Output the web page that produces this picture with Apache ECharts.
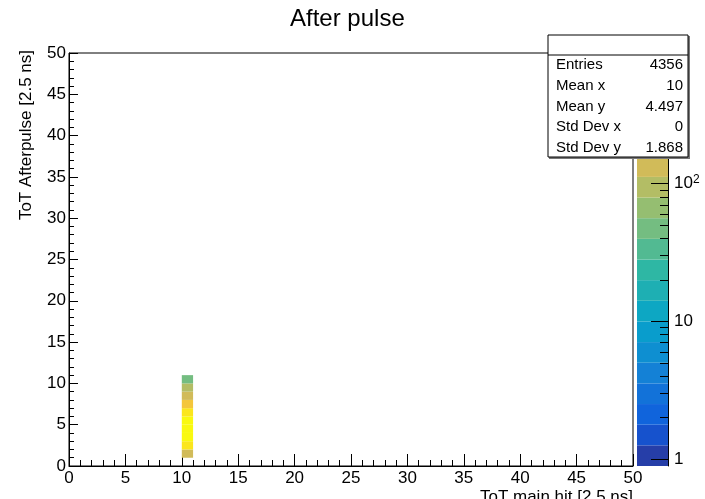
<!DOCTYPE html>
<html>
<head>
<meta charset="utf-8">
<script src="https://cdn.jsdelivr.net/npm/echarts@6/dist/echarts.min.js"></script>
<style>
  html, body { margin: 0; padding: 0; background: #fff; }
  #chart { width: 705px; height: 499px; }
</style>
</head>
<body>
<div id="chart"></div>
<script>
// After-pulse ToT versus main-hit ToT (2D histogram, log colour scale)
const xFill = 10;                                   // main-hit ToT of every entry
const yBins = [1, 2, 3, 4, 5, 6, 7, 8, 9, 10];      // afterpulse ToT bins (low edges)
const counts = [123, 502, 780, 890, 861, 620, 290, 150, 92, 48];
const xTickLabels = [0, 5, 10, 15, 20, 25, 30, 35, 40, 45, 50];
const yTickLabels = [0, 5, 10, 15, 20, 25, 30, 35, 40, 45, 50];
const zTickLabels = [1, 10, 100];

const FONT = '"Liberation Sans", Arial, Helvetica, sans-serif';
const binW = 1;

// statistics box contents
const nEntries = counts.reduce((a, b) => a + b, 0);
const sumY = yBins.reduce((s, y, i) => s + y * counts[i], 0);
const sumY2 = yBins.reduce((s, y, i) => s + y * y * counts[i], 0);
const meanY = sumY / nEntries;
const stdY = Math.sqrt(sumY2 / nEntries - meanY * meanY);
const fmt = v => String(parseFloat(v.toPrecision(4)));
const statRows = [
  ['Entries', String(nEntries)],
  ['Mean x', fmt(xFill)],
  ['Mean y', fmt(meanY)],
  ['Std Dev x', fmt(0)],
  ['Std Dev y', fmt(stdY)]
];

// log colour scale: 20 contours between 0.001*max and max
const zMax = Math.max(...counts);
const zMin = 0.001 * zMax;
const lzMin = Math.log10(zMin), lzMax = Math.log10(zMax);
const nContours = 20;
const dz = (lzMax - lzMin) / nContours;

// kBird gradient, 255 colours
const stops = [0.0, 0.125, 0.25, 0.375, 0.5, 0.625, 0.75, 0.875, 1.0];
const red   = [0.2082, 0.0592, 0.0780, 0.0232, 0.1802, 0.5301, 0.8186, 0.9956, 0.9764];
const green = [0.1664, 0.3599, 0.5041, 0.6419, 0.7178, 0.7492, 0.7328, 0.7862, 0.9832];
const blue  = [0.5293, 0.8684, 0.8385, 0.7914, 0.6425, 0.4662, 0.3499, 0.1968, 0.0539];
const gradient = [];
for (let g = 1; g < stops.length; g++) {
  const n = Math.floor(255 * stops[g]) - Math.floor(255 * stops[g - 1]);
  for (let c = 0; c < n; c++) {
    const f = c / n;
    const ch = arr => Math.round(255 * (arr[g - 1] + f * (arr[g] - arr[g - 1])));
    gradient.push('rgb(' + ch(red) + ',' + ch(green) + ',' + ch(blue) + ')');
  }
}
const bandColor = k => gradient[Math.min(254, Math.floor((k + 0.99) * 255 / nContours))];
const bandOf = z => Math.max(0, Math.min(nContours - 1, Math.floor(0.01 + (Math.log10(z) - lzMin) / dz)));

const cellData = yBins.map((y, i) => [xFill, y, counts[i]]);
const paletteData = [];
for (let k = 0; k < nContours; k++) paletteData.push([k, lzMin + k * dz, lzMin + (k + 1) * dz]);

const majorZ = zTickLabels.map(v => Math.log10(v));
const minorZ = [];
for (let d = 0; d < 3; d++) {
  for (let m = 2; m <= 9; m++) {
    const l = Math.log10(m * Math.pow(10, d));
    if (l < lzMax) minorZ.push(l);
  }
}

const labelStyle = { color: '#000', fontFamily: FONT, fontSize: 17 };
const tickStyle = { color: '#000', width: 1 };

const chart = echarts.init(document.getElementById('chart'), null, { renderer: 'canvas' });
chart.setOption({
  animation: false,
  backgroundColor: '#fff',
  title: {
    text: 'After pulse',
    left: 290, top: 7, padding: 0,
    textStyle: { fontFamily: FONT, fontSize: 24, fontWeight: 'normal', color: '#000' }
  },
  grid: [
    { left: 69, right: 72, top: 53, bottom: 33, outerBoundsMode: 'none', containLabel: false,
      show: true, borderColor: '#000', borderWidth: 1 },
    { left: 637, right: 37, top: 53, bottom: 33, outerBoundsMode: 'none', containLabel: false }
  ],
  xAxis: [
    {
      gridIndex: 0, type: 'value',
      min: xTickLabels[0], max: xTickLabels[xTickLabels.length - 1], interval: 5,
      name: 'ToT main hit [2.5 ns]', nameLocation: 'end', nameGap: 0,
      nameTextStyle: { fontFamily: FONT, fontSize: 17, color: '#000', align: 'right', verticalAlign: 'top', padding: [23, 0, 0, 0] },
      axisLine: { show: true, onZero: false, lineStyle: tickStyle },
      axisTick: { show: true, inside: true, length: 12, lineStyle: tickStyle },
      minorTick: { show: true, splitNumber: 5, length: 6, lineStyle: tickStyle },
      axisLabel: Object.assign({ margin: 4, showMinLabel: true, showMaxLabel: true }, labelStyle),
      splitLine: { show: false }
    },
    { gridIndex: 1, type: 'value', min: 0, max: 1, show: false }
  ],
  yAxis: [
    {
      gridIndex: 0, type: 'value',
      min: yTickLabels[0], max: yTickLabels[yTickLabels.length - 1], interval: 5,
      name: 'ToT Afterpulse [2.5 ns]', nameLocation: 'end', nameGap: 3, nameRotate: 90,
      nameTextStyle: { fontFamily: FONT, fontSize: 17, color: '#000', align: 'right', verticalAlign: 'bottom', padding: [0, 0, 34, 0] },
      axisLine: { show: true, onZero: false, lineStyle: tickStyle },
      axisTick: { show: true, inside: true, length: 9, lineStyle: tickStyle },
      minorTick: { show: true, splitNumber: 5, length: 5, lineStyle: tickStyle },
      axisLabel: Object.assign({ margin: 3, showMinLabel: true, showMaxLabel: true }, labelStyle),
      splitLine: { show: false }
    },
    {
      gridIndex: 1, type: 'value', position: 'right', min: lzMin, max: lzMax, z: 10,
      axisLine: { show: true, onZero: false, lineStyle: tickStyle },
      axisTick: { show: true, inside: true, length: 17, customValues: majorZ, lineStyle: tickStyle },
      axisLabel: Object.assign({
        margin: 6, customValues: majorZ,
        formatter: v => {
          const e = Math.round(v);
          return e < 2 ? String(Math.pow(10, e)) : '10{sup|' + e + '}';
        },
        rich: { sup: { fontFamily: FONT, fontSize: 12, color: '#000', verticalAlign: 'top', padding: [0, 0, 8, 0] } }
      }, labelStyle),
      splitLine: { show: false }
    },
    {
      gridIndex: 1, type: 'value', position: 'right', min: lzMin, max: lzMax, z: 10,
      axisLine: { show: false, onZero: false },
      axisTick: { show: true, inside: true, length: 8, customValues: minorZ, lineStyle: tickStyle },
      axisLabel: { show: false },
      splitLine: { show: false }
    }
  ],
  series: [
    {
      type: 'custom', xAxisIndex: 0, yAxisIndex: 0,
      data: cellData,
      encode: { x: 0, y: 1 },
      renderItem: (params, api) => {
        const x0 = api.value(0), y0 = api.value(1), z = api.value(2);
        const p0 = api.coord([x0, y0]);
        const p1 = api.coord([x0 + binW, y0 + binW]);
        return {
          type: 'rect',
          shape: { x: p0[0], y: p1[1], width: p1[0] - p0[0], height: p0[1] - p1[1] },
          style: { fill: bandColor(bandOf(z)) }
        };
      }
    },
    {
      type: 'custom', xAxisIndex: 1, yAxisIndex: 1,
      data: paletteData,
      encode: { y: [1, 2] },
      renderItem: (params, api) => {
        const k = api.value(0);
        const a = api.coord([0, api.value(1)]);
        const b = api.coord([1, api.value(2)]);
        return {
          type: 'rect',
          shape: { x: a[0], y: b[1], width: b[0] - a[0], height: a[1] - b[1] },
          style: { fill: bandColor(k) }
        };
      }
    }
  ],
  graphic: {
    elements: [
      { type: 'rect', z: 100, shape: { x: 549, y: 36, width: 141, height: 123 }, style: { fill: '#777' } },
      { type: 'rect', z: 101, shape: { x: 548, y: 35, width: 140, height: 122 }, style: { fill: '#fff', stroke: '#000', lineWidth: 1 } },
      { type: 'line', z: 102, shape: { x1: 548, y1: 55, x2: 688, y2: 55 }, style: { stroke: '#000', lineWidth: 1 } }
    ].concat(statRows.map((r, i) => ({
      type: 'text', z: 103, x: 556, y: 65.3 + i * 20.6,
      style: { text: r[0], fill: '#000', font: '15px ' + FONT, align: 'left', verticalAlign: 'middle', textAlign: 'left', textVerticalAlign: 'middle' }
    }))).concat(statRows.map((r, i) => ({
      type: 'text', z: 103, x: 683, y: 65.3 + i * 20.6,
      style: { text: r[1], fill: '#000', font: '15px ' + FONT, align: 'right', verticalAlign: 'middle', textAlign: 'right', textVerticalAlign: 'middle' }
    })))
  }
});
</script>
</body>
</html>
